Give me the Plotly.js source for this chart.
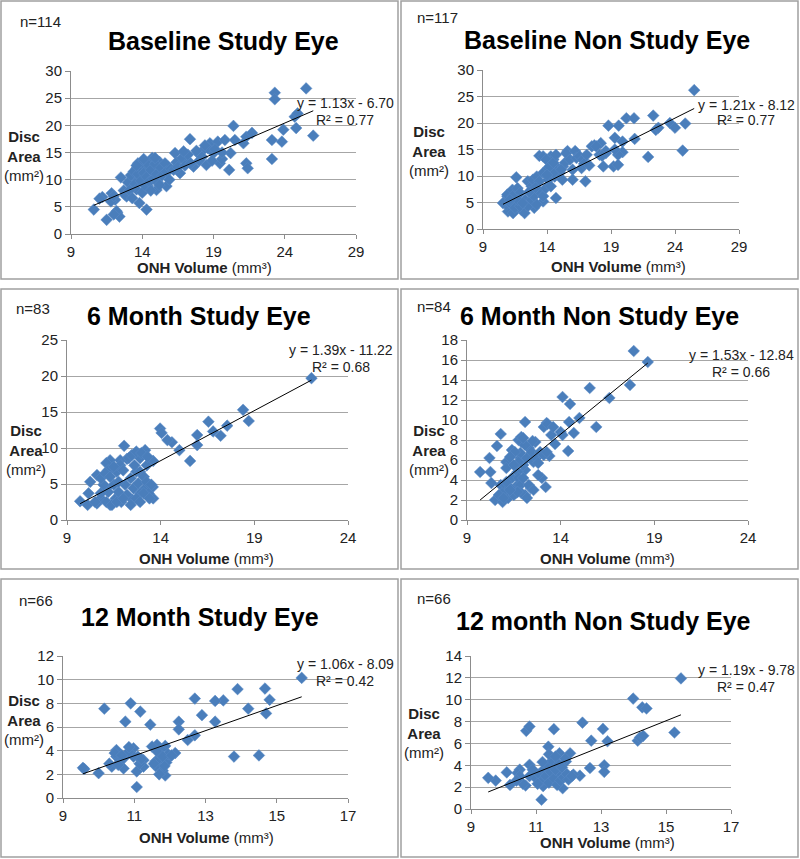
<!DOCTYPE html>
<html>
<head>
<meta charset="utf-8">
<script src="https://cdn.plot.ly/plotly-3.0.1.min.js"></script>
<style>
html, body { margin: 0; padding: 0; background: #fff; }
#chart { width: 800px; height: 859px; }
</style>
</head>
<body>
<div id="chart"></div>
<script>
// ---------- data ----------
var panelTitles = ['Baseline Study Eye', 'Baseline Non Study Eye', '6 Month Study Eye',
    '6 Month Non Study Eye', '12 Month Study Eye', '12 month Non Study Eye'];
var sampleSizes = [114, 117, 83, 84, 66, 66];
var slopes = [1.13, 1.21, 1.39, 1.53, 1.06, 1.19];
var intercepts = [-6.70, -8.12, -11.22, -12.84, -8.09, -9.78];
var rSquared = [0.77, 0.77, 0.68, 0.66, 0.42, 0.47];
var xRanges = [[9, 29], [9, 29], [9, 24], [9, 24], [9, 17], [9, 17]];
var yRanges = [[0, 30], [0, 30], [0, 25], [0, 18], [0, 12], [0, 14]];
var xSteps = [5, 5, 5, 5, 2, 2];
var ySteps = [5, 5, 5, 2, 2, 2];

var baseStudyX = [10.6, 11.5, 11.2, 11.85, 12.1, 12.25, 12.4, 12.5, 12.7, 12.9, 13.3, 13.4, 13.6, 13.7, 13.8, 13.96,
    14.2, 14.3, 14.7, 14.4, 15.0, 15.2, 15.5, 15.7, 15.8, 16.3, 16.65, 17.1, 17.35, 17.6, 17.9, 18.3, 18.5, 18.75,
    19.0, 19.3, 19.45, 19.8, 20.2, 20.1, 20.4, 20.5, 21.1, 21.3, 21.3, 21.4, 21.7, 23.1, 23.1, 23.3, 23.3, 23.8,
    23.9, 24.7, 24.9, 24.8, 25.5, 26.0,
    13.0, 13.2, 13.4, 13.5, 13.6, 13.7, 13.8, 13.9, 14.0, 14.0, 14.1, 14.2, 14.3, 14.4, 14.5, 14.6, 14.8, 14.9,
    15.0, 15.1, 15.3, 15.4, 15.6, 15.7, 15.9, 16.0, 16.2, 16.4, 16.5, 16.8, 17.0, 17.2, 17.4, 17.8, 18.0, 18.2,
    18.6, 18.9, 19.1, 19.6, 12.8, 13.1, 12.2, 12.0, 11.8, 12.0, 11.0, 13.3, 14.6, 15.2, 13.6, 14.1, 14.9, 16.9,
    18.4, 19.6];
var baseStudyY = [4.5, 2.6, 6.8, 7.5, 6.3, 3.9, 3.2, 10.4, 8.0, 6.9, 8.8, 10.6, 12.1, 13.0, 5.7, 10.0,
    12.4, 4.5, 14.0, 8.8, 8.1, 13.3, 11.8, 8.8, 12.4, 14.9, 11.2, 13.6, 17.45, 12.4, 14.9, 15.5, 12.7, 16.7,
    14.9, 17.0, 13.0, 17.3, 14.9, 11.8, 19.9, 17.3, 16.7, 17.9, 13.0, 12.1, 18.6, 17.3, 13.8, 26.0, 24.8, 17.0,
    19.2, 21.6, 22.2, 19.5, 26.8, 18.1,
    9.5, 10.8, 11.5, 9.2, 8.2, 11.0, 12.5, 9.8, 13.1, 7.6, 11.2, 8.9, 10.5, 12.8, 9.6, 11.8, 10.2, 12.9,
    11.0, 9.5, 12.2, 10.8, 13.0, 11.5, 10.0, 12.0, 11.8, 13.2, 12.3, 14.0, 12.6, 14.6, 13.0, 15.3, 13.5, 14.2,
    15.8, 13.5, 15.6, 13.8, 7.2, 8.0, 4.2, 3.6, 6.0, 7.0, 6.5, 6.6, 8.0, 9.0, 12.6, 13.8, 14.0, 15.2,
    16.3, 15.0];

var baseNonStudyX = [25.5, 22.3, 21.9, 22.5, 22.7, 23.6, 24.0, 24.8, 24.6, 20.2, 20.8, 18.8, 19.6, 19.3, 20.85,
    19.9, 19.9, 19.55, 19.2, 19.55, 18.4, 18.2, 17.7, 18.6, 17.0, 16.0, 16.0, 15.6, 14.7, 13.7, 13.4, 13.0,
    11.6, 10.95, 11.35, 12.0, 12.25, 10.8, 10.9, 11.2,
    10.56, 10.9, 11.3, 11.7, 11.9, 12.5, 12.8, 12.9, 13.2, 13.4, 13.7, 14.1, 14.3, 14.5, 14.6, 14.7, 15.0, 15.25,
    15.4, 15.5, 15.8, 16.2, 16.3, 16.55, 16.7, 16.8, 17.1, 17.5, 17.85, 18.1, 18.6, 19.3, 12.3, 12.5, 12.8, 13.0,
    13.2, 13.4, 13.7, 13.9, 14.1, 14.3, 14.5, 11.1, 11.5, 11.9, 11.7, 12.1, 11.3, 11.1, 13.7, 13.95, 14.2, 14.5,
    14.7, 15.1, 12.6, 13.1, 14.0, 15.2, 16.9, 17.3, 18.3];
var baseNonStudyY = [26.2, 21.4, 13.6, 18.7, 19.1, 20.0, 19.1, 19.9, 14.8, 20.9, 20.9, 19.5, 19.5, 17.2, 17.0,
    16.5, 14.5, 14.0, 11.8, 12.1, 11.8, 16.2, 15.8, 14.3, 9.0, 11.2, 9.3, 14.7, 5.85, 5.2, 13.8, 4.0,
    9.75, 3.3, 3.0, 3.6, 3.0, 4.6, 6.2, 5.5,
    4.9, 6.5, 7.4, 7.7, 6.8, 9.0, 8.05, 9.3, 9.9, 9.0, 10.6, 11.5, 13.7, 13.1, 9.9, 11.8, 10.6, 11.8,
    12.5, 14.3, 13.1, 14.7, 13.4, 13.7, 11.5, 13.1, 14.0, 15.6, 15.6, 14.0, 14.7, 15.0, 5.5, 4.3, 5.5, 6.2,
    4.6, 7.1, 6.2, 7.7, 9.3, 8.05, 10.6, 4.9, 4.0, 4.3, 5.5, 4.9, 6.2, 5.5, 13.7, 13.1, 11.8, 12.5,
    14.0, 11.2, 7.0, 7.8, 10.2, 9.3, 12.3, 12.0, 13.8];

var sixStudyX = [22.05, 18.4, 18.7, 17.55, 17.2, 16.55, 16.8, 15.95, 15.95, 15.0, 15.57, 14.6, 14.36, 13.97, 14.05,
    13.6, 13.17, 13.26, 12.9, 12.7, 13.58, 13.6, 13.17, 12.9, 12.05, 11.84, 12.2, 11.3, 11.1, 11.2, 10.6, 10.24,
    10.15, 9.7, 10.1, 10.6, 10.8, 11.3, 11.1,
    10.95, 11.2, 11.5, 11.6, 11.75, 11.9, 12.1, 12.2, 12.4, 12.5, 12.55, 12.6, 12.8, 12.9, 13.1, 13.25, 13.35,
    11.66, 11.84, 12.0, 12.3, 12.45, 12.7, 12.97, 13.3, 10.8, 11.04, 11.3, 11.5, 11.75, 11.1, 11.4, 11.66, 12.0,
    12.4, 12.7, 12.9, 10.8, 10.5, 13.1, 13.4, 13.5];
var sixStudyY = [19.7, 15.3, 13.75, 13.1, 11.7, 13.65, 12.3, 11.8, 10.4, 9.7, 8.2, 10.8, 11.1, 12.7, 12.1,
    8.2, 9.7, 7.6, 8.6, 6.7, 4.6, 3.0, 4.4, 3.7, 10.3, 8.3, 8.5, 8.3, 7.9, 6.9, 6.25, 5.3,
    3.7, 2.6, 2.1, 2.3, 3.0, 2.1, 4.4,
    4.9, 3.9, 4.9, 3.0, 3.9, 2.5, 4.9, 3.5, 5.8, 2.8, 4.4, 7.6, 5.1, 6.7, 6.0, 5.3, 3.7,
    6.7, 7.6, 6.9, 8.6, 9.0, 9.5, 9.3, 8.8, 5.8, 6.5, 6.0, 7.4, 5.3, 2.5, 2.1, 2.5, 3.0,
    2.1, 3.0, 2.5, 3.7, 2.5, 3.7, 3.0, 4.9];

var sixNonStudyX = [17.9, 18.65, 17.7, 15.55, 16.6, 14.1, 14.5, 15.0, 15.9, 14.45, 14.7, 14.0, 14.4, 13.7, 13.5,
    13.25, 13.1, 13.4, 13.2, 13.0, 12.8, 12.65, 12.1, 10.8, 10.6, 10.2, 9.7, 10.25, 10.3, 10.5, 10.9, 11.1,
    11.1, 11.4, 11.75, 11.9, 11.85, 12.1, 12.1, 12.4, 11.6, 11.7,
    10.8, 10.95, 11.05, 11.2, 11.3, 11.5, 11.4, 11.7, 11.75, 11.85, 11.9, 12.0, 12.2, 12.3, 12.45, 12.55, 12.7,
    12.9, 12.8, 11.9, 12.1, 11.85, 12.3, 12.55, 11.55, 11.3, 11.1, 10.7, 10.95, 11.7, 12.0, 11.75, 13.1, 13.25,
    12.2, 11.5, 12.0, 12.5, 13.3, 13.6, 14.1, 11.3];
var sixNonStudyY = [16.9, 15.8, 13.5, 13.2, 12.2, 12.3, 11.6, 10.2, 9.3, 9.8, 8.7, 8.8, 6.9, 7.6, 8.5,
    9.7, 9.3, 6.4, 3.3, 4.2, 4.5, 7.8, 9.8, 8.6, 7.4, 6.2, 4.8, 4.8, 3.7, 2.0, 1.8, 5.8,
    5.2, 7.0, 8.0, 8.3, 6.2, 5.0, 2.5, 3.2, 2.7, 3.5,
    3.5, 2.8, 3.5, 2.2, 3.2, 2.5, 4.2, 4.8, 4.2, 3.5, 2.7, 5.5, 6.2, 7.2, 6.8, 5.8, 6.2,
    6.8, 5.7, 7.8, 7.5, 6.7, 3.5, 3.0, 6.8, 6.3, 3.8, 2.5, 2.2, 2.8, 4.2, 5.8, 6.5, 6.8,
    2.2, 5.5, 8.2, 7.9, 9.6, 9.3, 8.5, 3.0];

var twelveStudyX = [15.7, 14.67, 14.8, 14.7, 14.2, 14.5, 13.9, 13.5, 13.27, 13.27, 13.8, 12.9, 12.7, 12.7, 12.5,
    12.25, 12.25, 12.15, 12.0, 11.87, 11.87, 11.64, 11.6, 11.73, 11.45, 11.5, 11.17, 10.9, 10.16, 10.75, 11.07,
    11.07, 10.98, 10.98, 11.26, 11.26, 10.84, 10.5, 10.5, 10.7, 10.7, 10.37, 10.3, 10.0, 9.6, 9.56,
    11.6, 11.7, 11.75, 11.8, 11.9, 11.95, 11.65, 11.55, 11.85, 11.7, 11.8, 12.05, 11.15, 11.1, 11.2, 10.85,
    10.6, 10.55, 10.45, 10.65];
var twelveStudyY = [10.15, 9.25, 8.3, 7.15, 7.55, 3.6, 9.2, 8.25, 8.2, 6.45, 3.5, 7.0, 8.4, 5.3, 4.9,
    6.45, 5.8, 3.8, 3.5, 4.4, 1.9, 4.5, 3.1, 2.5, 6.2, 4.35, 7.3, 8.0, 7.55, 6.45, 0.93,
    2.25, 4.2, 3.5, 3.2, 2.65, 3.9, 4.05, 3.5, 3.35, 2.5, 2.65, 2.9, 2.1, 2.45, 2.55,
    2.7, 3.3, 4.1, 2.3, 3.0, 3.7, 3.9, 2.9, 2.7, 2.0, 3.5, 3.6, 2.9, 3.5, 3.3, 4.3,
    3.1, 2.8, 3.8, 3.6];

var twelveNonStudyX = [15.46, 15.26, 13.99, 14.27, 14.4, 14.13, 14.2, 14.3, 13.06, 13.2, 13.1, 13.1, 12.43, 12.7,
    12.66, 12.35, 12.15, 12.05, 11.92, 11.82, 11.72, 11.64, 11.55, 11.38, 11.17, 11.17, 11.22, 10.7, 10.8, 10.8,
    10.68, 10.8, 10.5, 10.43, 10.2, 10.1, 9.76, 9.53,
    11.0, 11.1, 11.15, 11.25, 11.3, 11.35, 11.4, 11.45, 11.5, 11.55, 11.6, 11.65, 11.7, 11.75, 11.8, 11.85, 11.9,
    11.95, 12.0, 12.1, 11.05, 10.9, 10.6, 10.5, 10.4, 11.2, 11.4, 11.6];
var twelveNonStudyY = [11.95, 7.0, 10.1, 9.3, 9.2, 6.25, 6.55, 6.7, 7.33, 6.2, 4.0, 3.4, 7.9, 6.25,
    3.75, 3.05, 3.15, 5.1, 4.35, 1.9, 5.1, 3.3, 7.3, 5.7, 0.85, 3.4, 2.1, 7.15, 7.55, 4.05,
    2.15, 3.0, 3.6, 3.3, 2.2, 3.35, 2.6, 2.85,
    2.8, 3.2, 2.5, 3.6, 3.0, 4.0, 2.4, 3.4, 4.4, 2.8, 3.6, 2.2, 4.1, 2.6, 3.8, 2.9, 4.6,
    3.2, 2.7, 3.0, 2.3, 3.6, 2.3, 3.0, 2.6, 4.3, 5.0, 4.8];

var seriesX = [baseStudyX, baseNonStudyX, sixStudyX, sixNonStudyX, twelveStudyX, twelveNonStudyX];
var seriesY = [baseStudyY, baseNonStudyY, sixStudyY, sixNonStudyY, twelveStudyY, twelveNonStudyY];

// ---------- page geometry (pixels of the 800x859 picture) ----------
var W = 800, H = 859;
function px(x) { return x / W; }
function py(y) { return 1 - y / H; }

var boxes = [[1, 1, 398, 279], [401, 1, 798, 279], [1, 289, 398, 569],
    [401, 289, 798, 569], [1, 579, 398, 857], [401, 579, 798, 857]];
var plotAreas = [[71, 71, 356, 234], [483, 70, 739, 229], [67, 340, 348, 520],
    [467, 340, 748, 520], [63, 656, 348, 798], [471, 656, 731, 809]];
var titlePos = [[223, 41], [607, 40], [199, 316], [599, 316], [200, 617], [603, 621]];
var nPos = [[18, 22], [415, 18], [14, 308], [415, 306], [17, 600], [415, 598]];
var eqPos = [[345, 103, 120], [746, 105, 120], [341, 350, 367], [741, 355, 372], [345, 664, 681], [746, 670, 687]];
var yLabPos = [[24, 156], [429, 151], [26, 450], [429, 450], [24, 720], [424, 733]];
var xLabPos = [[204, 268], [618, 267], [207, 558], [607, 558], [207, 837], [607, 842]];

var FONT = 'Liberation Sans, Arial, sans-serif';
var BLUE = '#4a7ebb';

var data = [];
var layout = {
    width: W, height: H,
    margin: { l: 0, r: 0, t: 0, b: 0 },
    paper_bgcolor: '#fff', plot_bgcolor: '#fff',
    showlegend: false,
    font: { family: FONT, color: '#222' },
    shapes: [], annotations: []
};

for (var i = 0; i < 6; i++) {
    var sx = i === 0 ? '' : String(i + 1);
    var xs = seriesX[i], ys = seriesY[i];
    data.push({
        x: xs, y: ys, xaxis: 'x' + sx, yaxis: 'y' + sx,
        type: 'scatter', mode: 'markers',
        marker: { symbol: 'diamond', size: 9, color: BLUE, line: { width: 0.5, color: '#5b8ac6' } },
        hoverinfo: 'x+y'
    });
    // linear trend line from the printed fit
    var xmin = Math.min.apply(null, xs), xmax = Math.max.apply(null, xs);
    data.push({
        x: [xmin, xmax],
        y: [slopes[i] * xmin + intercepts[i], slopes[i] * xmax + intercepts[i]],
        xaxis: 'x' + sx, yaxis: 'y' + sx,
        type: 'scatter', mode: 'lines',
        line: { color: '#000', width: 1 },
        hoverinfo: 'skip'
    });

    var pa = plotAreas[i];
    layout['xaxis' + sx] = {
        domain: [px(pa[0]), px(pa[2])], anchor: 'y' + sx,
        range: xRanges[i], tick0: xRanges[i][0], dtick: xSteps[i],
        showgrid: false, zeroline: false,
        showline: true, linecolor: '#8c8c8c', linewidth: 1,
        ticks: 'outside', ticklen: 4, tickcolor: '#8c8c8c',
        tickfont: { size: 15, color: '#222' }, fixedrange: true
    };
    layout['yaxis' + sx] = {
        domain: [py(pa[3]), py(pa[1])], anchor: 'x' + sx,
        range: yRanges[i], tick0: 0, dtick: ySteps[i],
        showgrid: true, gridcolor: '#a6a6a6', gridwidth: 1, zeroline: false,
        showline: true, linecolor: '#8c8c8c', linewidth: 1,
        ticks: 'outside', ticklen: 5, tickcolor: '#8c8c8c',
        tickfont: { size: 15, color: '#222' }, fixedrange: true
    };

    var b = boxes[i];
    layout.shapes.push({
        type: 'rect', xref: 'paper', yref: 'paper',
        x0: px(b[0]), x1: px(b[2]), y0: py(b[3]), y1: py(b[1]),
        line: { color: '#a0a0a0', width: 1.5 }
    });

    layout.annotations.push({
        xref: 'paper', yref: 'paper', x: px(titlePos[i][0]), y: py(titlePos[i][1]),
        text: '<b>' + panelTitles[i] + '</b>', showarrow: false,
        font: { size: 25, color: '#000', family: FONT }, xanchor: 'center', yanchor: 'middle'
    });
    layout.annotations.push({
        xref: 'paper', yref: 'paper', x: px(nPos[i][0]), y: py(nPos[i][1]),
        text: 'n=' + sampleSizes[i], showarrow: false,
        font: { size: 15, color: '#222', family: FONT }, xanchor: 'left', yanchor: 'middle'
    });
    layout.annotations.push({
        xref: 'paper', yref: 'paper', x: px(eqPos[i][0]), y: py(eqPos[i][1]),
        text: 'y = ' + slopes[i].toFixed(2) + 'x - ' + Math.abs(intercepts[i]).toFixed(2), showarrow: false,
        font: { size: 14, color: '#222', family: FONT }, xanchor: 'center', yanchor: 'middle'
    });
    layout.annotations.push({
        xref: 'paper', yref: 'paper', x: px(eqPos[i][0]), y: py(eqPos[i][2]),
        text: 'R² = ' + rSquared[i].toFixed(2), showarrow: false,
        font: { size: 14, color: '#222', family: FONT }, xanchor: 'center', yanchor: 'middle'
    });
    layout.annotations.push({
        xref: 'paper', yref: 'paper', x: px(yLabPos[i][0]), y: py(yLabPos[i][1]),
        text: '<b>Disc</b><br><b>Area</b><br>(mm²)', showarrow: false,
        font: { size: 15, color: '#222', family: FONT }, xanchor: 'center', yanchor: 'middle', align: 'center'
    });
    layout.annotations.push({
        xref: 'paper', yref: 'paper', x: px(xLabPos[i][0]), y: py(xLabPos[i][1]),
        text: '<b>ONH Volume</b> (mm³)', showarrow: false,
        font: { size: 15, color: '#222', family: FONT }, xanchor: 'center', yanchor: 'middle'
    });
}

Plotly.newPlot('chart', data, layout, { displayModeBar: false, staticPlot: true });
</script>
</body>
</html>
